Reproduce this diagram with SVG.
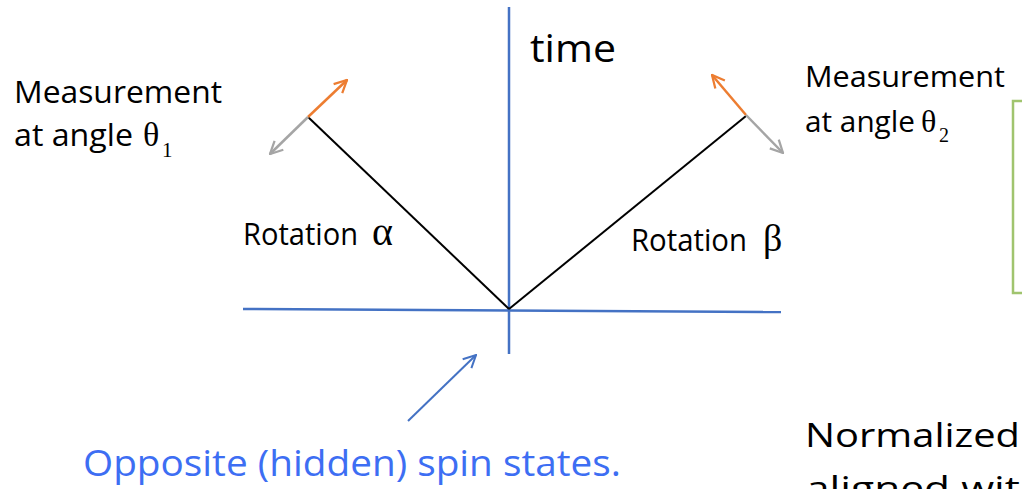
<svg xmlns="http://www.w3.org/2000/svg" width="1022" height="489" viewBox="0 0 1022 489">
<style>
.t{font-family:"Open Sans","Noto Sans","Liberation Sans",sans-serif;fill:#000}
.g{font-family:"Liberation Serif","DejaVu Serif",serif;fill:#000}
.axis{stroke:#4472C4;stroke-width:2.5;fill:none}
.rot{stroke:#000;stroke-width:2;fill:none}
.or{stroke:#ED7D31;stroke-width:2.5;fill:none}
.gr{stroke:#A5A5A5;stroke-width:2.5;fill:none}
</style>
<defs>
<marker id="ao" viewBox="0 0 12 12" refX="11" refY="6" markerWidth="15" markerHeight="15" markerUnits="userSpaceOnUse" orient="auto"><path d="M1,1 L11,6 L1,11" fill="none" stroke="#ED7D31" stroke-width="1.8"/></marker>
<marker id="ag" viewBox="0 0 12 12" refX="11" refY="6" markerWidth="15" markerHeight="15" markerUnits="userSpaceOnUse" orient="auto"><path d="M1,1 L11,6 L1,11" fill="none" stroke="#A5A5A5" stroke-width="1.8"/></marker>
<marker id="ab" viewBox="0 0 12 12" refX="11" refY="6" markerWidth="15" markerHeight="15" markerUnits="userSpaceOnUse" orient="auto"><path d="M1,1 L11,6 L1,11" fill="none" stroke="#4472C4" stroke-width="1.6"/></marker>
</defs>
<rect width="1022" height="489" fill="#fff"/>
<g id="connectors">
<line class="axis" x1="509" y1="7" x2="509" y2="354"/>
<line class="axis" x1="243" y1="309" x2="781" y2="312"/>
<line class="rot" x1="509" y1="309" x2="308" y2="117"/>
<line class="rot" x1="509" y1="309" x2="746" y2="116"/>
<line class="or" x1="308" y1="117" x2="347" y2="80" marker-end="url(#ao)"/>
<line class="gr" x1="308" y1="117" x2="270" y2="154" marker-end="url(#ag)"/>
<line class="or" x1="746" y1="115" x2="712" y2="75" marker-end="url(#ao)"/>
<line class="gr" x1="746" y1="115" x2="783" y2="153" marker-end="url(#ag)"/>
<line x1="408" y1="421" x2="476" y2="355" stroke="#4472C4" stroke-width="2" marker-end="url(#ab)"/>
</g>
<g id="time"><text class="t" x="530" y="62" font-size="38" textLength="86" lengthAdjust="spacingAndGlyphs">time</text></g>
<g id="meas1">
<text class="t" x="14" y="103" font-size="30.5" textLength="208" lengthAdjust="spacingAndGlyphs">Measurement</text>
<text class="t" x="14" y="146" font-size="30.5" textLength="119" lengthAdjust="spacingAndGlyphs">at angle</text>
<text class="g" x="143" y="146" font-size="34">θ</text>
<text class="g" x="162" y="157" font-size="21">1</text>
</g>
<g id="meas2">
<text class="t" x="805" y="87" font-size="29" textLength="200" lengthAdjust="spacingAndGlyphs">Measurement</text>
<text class="t" x="805" y="132" font-size="29" textLength="110" lengthAdjust="spacingAndGlyphs">at angle</text>
<text class="g" x="921" y="132" font-size="32">θ</text>
<text class="g" x="939" y="142" font-size="20">2</text>
</g>
<g id="rotA">
<text class="t" x="243" y="245" font-size="30.5" textLength="115" lengthAdjust="spacingAndGlyphs">Rotation</text>
<text class="g" x="372" y="245" font-size="40">α</text>
</g>
<g id="rotB">
<text class="t" x="631" y="251" font-size="30.5" textLength="116" lengthAdjust="spacingAndGlyphs">Rotation</text>
<text class="g" x="763" y="251" font-size="38">β</text>
</g>
<g id="box"><path d="M1022,101 H1013 V293 H1022" fill="none" stroke="#A0C46E" stroke-width="2.5"/></g>
<g id="spin"><text x="83" y="476" font-family="Open Sans,Noto Sans,Liberation Sans,sans-serif" font-size="36" fill="#3D6EF3" textLength="538" lengthAdjust="spacingAndGlyphs">Opposite (hidden) spin states.</text></g>
<g id="norm">
<text class="t" x="805" y="447" font-size="33.5" textLength="215" lengthAdjust="spacingAndGlyphs">Normalized</text>
<text class="t" x="806" y="500" font-size="33.5" textLength="214" lengthAdjust="spacingAndGlyphs">aligned wit</text>
</g>
</svg>
